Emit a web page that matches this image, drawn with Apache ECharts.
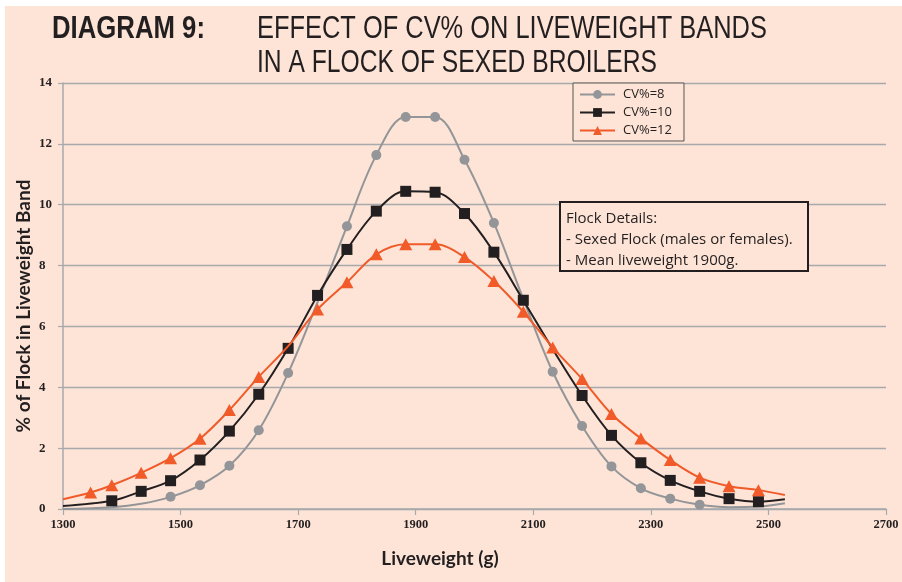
<!DOCTYPE html>
<html>
<head>
<meta charset="utf-8">
<script src="https://cdn.jsdelivr.net/npm/echarts@6/dist/echarts.min.js"></script>
<style>
html,body{margin:0;padding:0;background:#ffffff;}
#chart{width:902px;height:582px;}
</style>
</head>
<body>
<div id="chart"></div>
<script>
// ---- DATA ----
const seriesNames = ['CV%=8', 'CV%=10', 'CV%=12'];

// points drawn with a marker: [liveweight g, % of flock]
const cv8Marked = [[1483,0.40],[1533,0.78],[1583,1.42],[1633,2.59],[1683,4.47],[1783,9.29],[1833,11.63],[1883,12.88],[1933,12.88],[1983,11.48],[2033,9.40],[2133,4.51],[2183,2.73],[2233,1.40],[2283,0.68],[2333,0.34],[2383,0.14]];
// points on the curve with no visible marker
const cv8CurveOnly = [[1300,0.00],[1383,0.06],[1433,0.17],[1733,6.80],[2083,6.90],[2433,0.06],[2483,0.08],[2528,0.19]];

const cv10Marked = [[1383,0.27],[1433,0.58],[1483,0.93],[1533,1.61],[1583,2.56],[1633,3.77],[1683,5.28],[1733,7.02],[1783,8.53],[1833,9.79],[1883,10.44],[1933,10.41],[1983,9.71],[2033,8.44],[2083,6.86],[2183,3.73],[2233,2.42],[2283,1.52],[2333,0.94],[2383,0.58],[2433,0.34],[2483,0.24]];
const cv10CurveOnly = [[1300,0.10],[2133,5.25],[2528,0.32]];

const cv12Marked = [[1347,0.54],[1383,0.78],[1433,1.19],[1483,1.67],[1533,2.31],[1583,3.25],[1633,4.34],[1733,6.56],[1783,7.45],[1833,8.37],[1883,8.70],[1933,8.70],[1983,8.28],[2033,7.49],[2083,6.48],[2133,5.31],[2183,4.27],[2233,3.12],[2283,2.32],[2333,1.61],[2383,1.03],[2433,0.75],[2483,0.62]];
const cv12CurveOnly = [[1300,0.32],[1683,5.35],[2528,0.46]];

const xAxisRange = [1300, 2700, 200];
const yAxisRange = [0, 14, 2];

const titleBold = 'DIAGRAM 9:';
const titleLine1 = 'EFFECT OF CV% ON LIVEWEIGHT BANDS';
const titleLine2 = 'IN A FLOCK OF SEXED BROILERS';
const xAxisTitle = 'Liveweight (g)';
const yAxisTitle = '% of Flock in Liveweight Band';
const noteLines = ['Flock Details:', '- Sexed Flock (males or females).', '- Mean liveweight 1900g.'];

// ---- BUILD ----
function merge(marked, curveOnly) {
  const all = marked.map(p => ({ value: p }))
    .concat(curveOnly.map(p => ({ value: p, symbol: 'none' })));
  all.sort((a, b) => a.value[0] - b.value[0]);
  return all;
}

const PEACH = '#fde4d6';
const INK = '#231f20';
const GRID = '#a7a9ac';
const SANS = '"Liberation Sans",Arial,sans-serif';
const HUMAN = '"Open Sans","Lato",sans-serif';
const SERIF = '"Liberation Serif",serif';

const chart = echarts.init(document.getElementById('chart'), null, { renderer: 'canvas' });

const styles = [
  { color: '#939598', symbol: 'circle', size: 10 },
  { color: INK, symbol: 'rect', size: 11 },
  { color: '#f15a29', symbol: 'triangle', size: [13, 12] }
];
const datasets = [merge(cv8Marked, cv8CurveOnly), merge(cv10Marked, cv10CurveOnly), merge(cv12Marked, cv12CurveOnly)];

const option = {
  backgroundColor: 'transparent',
  animation: false,
  grid: { left: 63, right: 16, top: 83, bottom: 73 },
  xAxis: {
    type: 'value', min: xAxisRange[0], max: xAxisRange[1], interval: xAxisRange[2],
    axisLine: { show: true, lineStyle: { color: GRID, width: 1.5 } },
    axisTick: { show: true, length: 6, lineStyle: { color: GRID, width: 1.2 } },
    splitLine: { show: false },
    axisLabel: { color: INK, fontFamily: SERIF, fontWeight: 'bold', fontSize: 12.5, margin: 9, formatter: v => String(v) }
  },
  yAxis: {
    type: 'value', min: yAxisRange[0], max: yAxisRange[1], interval: yAxisRange[2],
    axisLine: { show: true, lineStyle: { color: GRID, width: 1.5 } },
    axisTick: { show: true, length: 5, lineStyle: { color: GRID, width: 1.2 } },
    splitLine: { show: true, lineStyle: { color: GRID, width: 1.3 } },
    axisLabel: { color: INK, fontFamily: SERIF, fontWeight: 'bold', fontSize: 13, margin: 24, align: 'left', formatter: v => String(v) }
  },
  legend: {
    data: seriesNames,
    orient: 'vertical',
    left: 573, top: 83,
    itemWidth: 35, itemHeight: 11, itemGap: 5,
    padding: [5, 12, 4, 6],
    borderColor: '#555555', borderWidth: 1,
    backgroundColor: PEACH,
    textStyle: { color: INK, fontFamily: HUMAN, fontSize: 13, padding: [0, 0, 0, 3] }
  },
  series: seriesNames.map((name, i) => ({
    name: name,
    type: 'line',
    data: datasets[i],
    smooth: 0.35,
    symbol: styles[i].symbol,
    symbolSize: styles[i].size,
    showSymbol: true,
    lineStyle: { color: styles[i].color, width: 2 },
    itemStyle: { color: styles[i].color },
    z: 2 + i
  })),
  graphic: [
    { type: 'rect', z: -10, silent: true, shape: { x: 5, y: 6, width: 897, height: 576 }, style: { fill: PEACH } },
    { type: 'text', x: 52, y: 29, scaleX: 0.83, style: { text: titleBold, font: 'bold 31px ' + SANS, fill: INK, textAlign: 'left', textVerticalAlign: 'middle' } },
    { type: 'text', x: 257, y: 29, scaleX: 0.82, style: { text: titleLine1, font: '31px ' + SANS, fill: INK, textAlign: 'left', textVerticalAlign: 'middle' } },
    { type: 'text', x: 257, y: 63, scaleX: 0.795, style: { text: titleLine2, font: '31px ' + SANS, fill: INK, textAlign: 'left', textVerticalAlign: 'middle' } },
    { type: 'text', x: 440, y: 559, style: { text: xAxisTitle, font: 'bold 19px "Lato",sans-serif', fill: INK, textAlign: 'center', textVerticalAlign: 'middle' } },
    { type: 'text', x: 24, y: 306, rotation: Math.PI / 2, style: { text: yAxisTitle, font: 'bold 19px "Lato",sans-serif', fill: INK, textAlign: 'center', textVerticalAlign: 'middle' } },
    { type: 'rect', z: 50, shape: { x: 560, y: 202, width: 248, height: 69 }, style: { fill: PEACH, stroke: INK, lineWidth: 2 } },
    { type: 'text', z: 51, x: 566, y: 219, style: { text: noteLines[0], font: '15px ' + HUMAN, fill: INK, textAlign: 'left', textVerticalAlign: 'middle' } },
    { type: 'text', z: 51, x: 566, y: 240, style: { text: noteLines[1], font: '15px ' + HUMAN, fill: INK, textAlign: 'left', textVerticalAlign: 'middle' } },
    { type: 'text', z: 51, x: 566, y: 261, style: { text: noteLines[2], font: '15px ' + HUMAN, fill: INK, textAlign: 'left', textVerticalAlign: 'middle' } }
  ]
};
chart.setOption(option);
</script>
</body>
</html>
